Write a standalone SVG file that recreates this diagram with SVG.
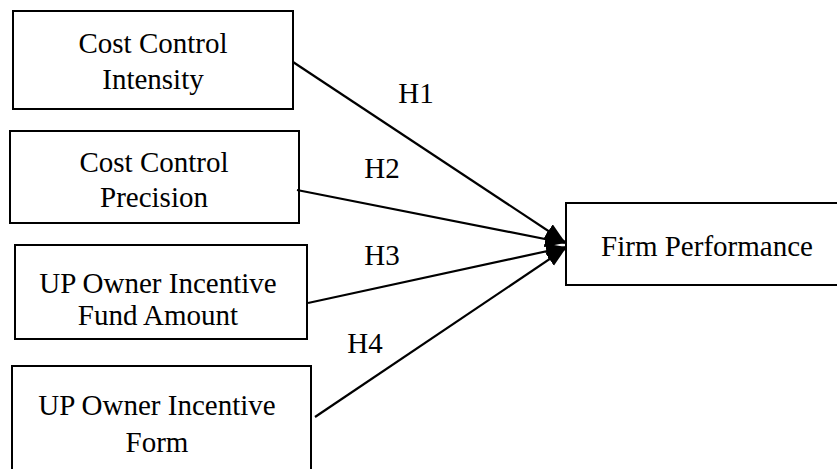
<svg xmlns="http://www.w3.org/2000/svg" width="837" height="469" viewBox="0 0 837 469">
<style>
.box{fill:#fff;stroke:#000;stroke-width:2}
.t{font-family:"Liberation Serif","Times New Roman",serif;font-size:29px;fill:#000;text-anchor:middle}
.c{stroke:#000;stroke-width:2.2;fill:none;marker-end:url(#ah)}
</style>
<defs>
<marker id="ah" markerUnits="userSpaceOnUse" markerWidth="22" markerHeight="18" refX="20" refY="8" orient="auto">
<path d="M0,0 L20,8 L0,16 Z" fill="#000"/>
</marker>
</defs>
<rect width="837" height="469" fill="#fff"/>
<g id="n1"><rect class="box" x="13" y="11" width="280" height="98"/><text class="t" x="153" y="53">Cost Control</text><text class="t" x="153" y="89">Intensity</text></g>
<g id="n2"><rect class="box" x="10" y="131" width="289" height="92"/><text class="t" x="154" y="172">Cost Control</text><text class="t" x="154" y="207">Precision</text></g>
<g id="n3"><rect class="box" x="15" y="245" width="292" height="94"/><text class="t" x="158" y="293">UP Owner Incentive</text><text class="t" x="158" y="325">Fund Amount</text></g>
<g id="n4"><rect class="box" x="12" y="366" width="299" height="110"/><text class="t" x="157" y="415">UP Owner Incentive</text><text class="t" x="157" y="452">Form</text></g>
<g id="n5"><rect class="box" x="566" y="203" width="280" height="82"/><text class="t" x="707" y="256">Firm Performance</text></g>
<g id="connectors">
<line class="c" x1="293" y1="62" x2="565" y2="242"/>
<line class="c" x1="297" y1="190" x2="565" y2="243"/>
<line class="c" x1="308" y1="303" x2="566" y2="247"/>
<line class="c" x1="315" y1="417" x2="566" y2="248"/>
<text class="t" x="416" y="103">H1</text>
<text class="t" x="382" y="178">H2</text>
<text class="t" x="382" y="265">H3</text>
<text class="t" x="365" y="353">H4</text>
</g>
</svg>
